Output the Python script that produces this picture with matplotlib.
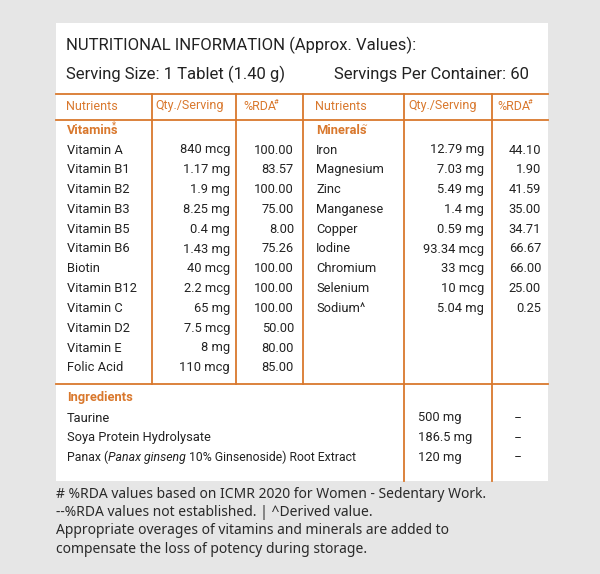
import matplotlib
matplotlib.use("Agg")
import matplotlib.pyplot as plt
from matplotlib.patches import Rectangle

vitamins = ["Vitamin A", "Vitamin B1", "Vitamin B2", "Vitamin B3", "Vitamin B5", "Vitamin B6",
            "Biotin", "Vitamin B12", "Vitamin C", "Vitamin D2", "Vitamin E", "Folic Acid"]
vit_qty = ["840 mcg", "1.17 mg", "1.9 mg", "8.25 mg", "0.4 mg", "1.43 mg",
           "40 mcg", "2.2 mcg", "65 mg", "7.5 mcg", "8 mg", "110 mcg"]
vit_rda = ["100.00", "83.57", "100.00", "75.00", "8.00", "75.26",
           "100.00", "100.00", "100.00", "50.00", "80.00", "85.00"]
minerals = ["Iron", "Magnesium", "Zinc", "Manganese", "Copper", "Iodine",
            "Chromium", "Selenium", "Sodium^"]
min_qty = ["12.79 mg", "7.03 mg", "5.49 mg", "1.4 mg", "0.59 mg", "93.34 mcg",
           "33 mcg", "10 mcg", "5.04 mg"]
min_rda = ["44.10", "1.90", "41.59", "35.00", "34.71", "66.67", "66.00", "25.00", "0.25"]
ingredients = ["Taurine", "Soya Protein Hydrolysate", None]
ing_qty = ["500 mg", "186.5 mg", "120 mg"]
footer = ["# %RDA values based on ICMR 2020 for Women - Sedentary Work.",
          "--%RDA values not established. | ^Derived value.",
          "Appropriate overages of vitamins and minerals are added to",
          "compensate the loss of potency during storage."]

ORANGE = "#d9782d"
INK = "#222222"
COND = ["Roboto", "DejaVu Sans"]

fig = plt.figure(figsize=(6.0, 5.74), dpi=100)
fig.patch.set_facecolor("#e6e6e6")
ax = fig.add_axes([0, 0, 1, 1])
ax.set_xlim(0, 600)
ax.set_ylim(574, 0)
ax.axis("off")
ax.add_patch(Rectangle((56, 23), 492, 458, fc="white", ec="none"))


def t(x, y, s, size=9.3, color=INK, ha="left", **kw):
    return ax.text(x, y, s, fontsize=size, color=color, ha=ha, va="center",
                   family=kw.pop("family", COND), **kw)


def chain(x, y, parts, **kw):
    # place text pieces one after another, measuring each
    r = fig.canvas.get_renderer()
    for s, extra in parts:
        txt = t(x, y, s, **kw, **extra)
        bb = txt.get_window_extent(renderer=r)
        x += bb.width  # 1 px == 1 data unit here
    return x


t(66, 45, "NUTRITIONAL INFORMATION (Approx. Values):", size=12)
t(66, 74, "Serving Size: 1 Tablet (1.40 g)", size=12)
t(529, 74, "Servings Per Container: 60", size=12, ha="right")

for y in (94, 120, 384):
    ax.plot([56, 548], [y, y], color=ORANGE, lw=1.3)
for x in (152, 236, 303):
    ax.plot([x, x], [94, 384], color=ORANGE, lw=1.3)
for x in (404, 492):
    ax.plot([x, x], [94, 481], color=ORANGE, lw=1.3)

hy = 106
for x, s in [(66, "Nutrients"), (155, "Qty./Serving"), (315, "Nutrients"), (408, "Qty./Serving")]:
    t(x, hy, s, color=ORANGE, size=9)
for x in (243, 497):
    chain(x, hy, [("%RDA", {})], color=ORANGE, size=9)
    t(x + 31, hy - 4, "#", size=5.5, color=ORANGE)

t(67, 130, "Vitamins", color=ORANGE, weight="bold")
t(112, 125, "*", size=7, color=ORANGE)
t(316, 130, "Minerals", color=ORANGE, weight="bold")
t(361, 125, "~", size=6, color=ORANGE)

y0, dy = 150, 19.8
for i, (n, q, r) in enumerate(zip(vitamins, vit_qty, vit_rda)):
    y = y0 + i * dy
    t(67, y, n)
    t(230, y, q, ha="right")
    t(294, y, r, ha="right")
for i, (n, q, r) in enumerate(zip(minerals, min_qty, min_rda)):
    y = y0 + i * dy
    t(316, y, n)
    t(484, y, q, ha="right")
    t(541, y, r, ha="right")

t(67, 398, "Ingredients", color=ORANGE, weight="bold")
for i, (n, q) in enumerate(zip(ingredients, ing_qty)):
    y = 418 + i * 19.5
    if n is None:
        chain(67, y, [("Panax (", {}), ("Panax ginseng", {"style": "italic"}),
                      (" 10% Ginsenoside) Root Extract", {})], size=8.8)
    else:
        t(67, y, n)
    t(418, y, q)
    t(518, y, "--", ha="center")

for i, s in enumerate(footer):
    t(56, 494 + i * 18.5, s, size=10, family=["Noto Sans", "DejaVu Sans"], color="#2a2a2a")

fig.savefig("out.png", dpi=100, facecolor=fig.get_facecolor())
